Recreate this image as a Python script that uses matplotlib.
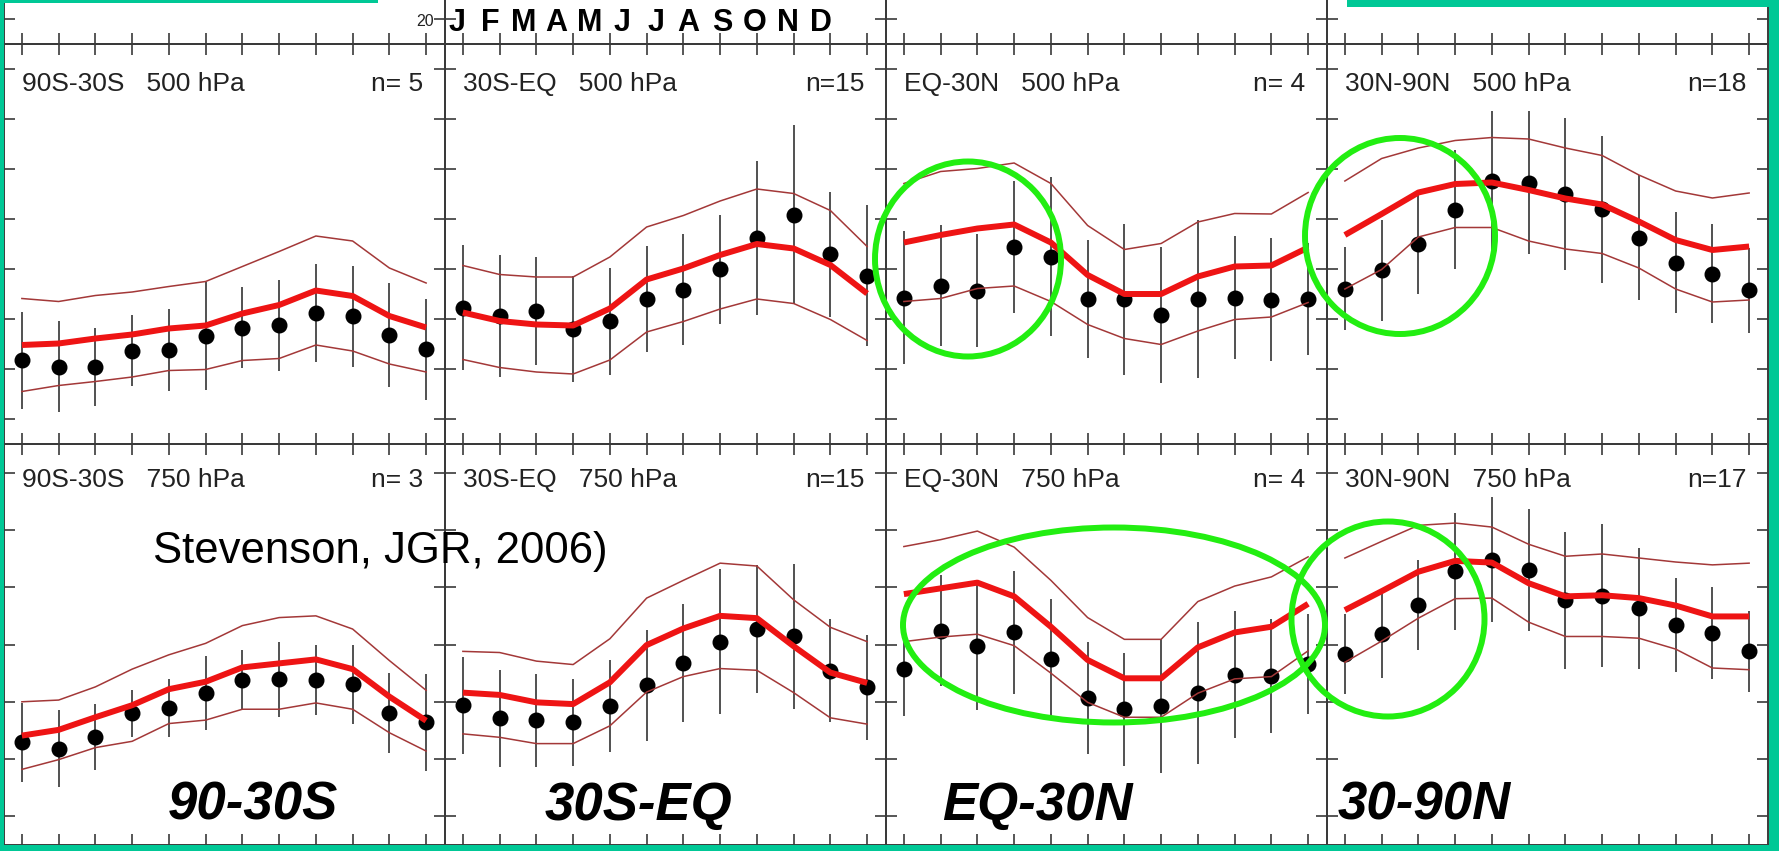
import numpy as np
import matplotlib
matplotlib.use("Agg")
import matplotlib.pyplot as plt
from matplotlib.patches import Ellipse, Rectangle

plt.rcParams['font.family'] = ['Liberation Sans', 'DejaVu Sans']

months = np.arange(1, 13)
month_letters = ['J', 'F', 'M', 'A', 'M', 'J', 'J', 'A', 'S', 'O', 'N', 'D']

regions = ['90S-30S', '30S-EQ', 'EQ-30N', '30N-90N']
big_labels = ['90-30S', '30S-EQ', 'EQ-30N', '30-90N']
n_500 = ['n= 5', 'n=15', 'n= 4', 'n=18']
n_750 = ['n= 3', 'n=15', 'n= 4', 'n=17']

# 500 hPa: observed mean / sd (black dots + bars), model mean / sd (red lines)
obs_90s30s_500 = [31.8, 30.5, 30.5, 33.7, 33.8, 36.7, 38.3, 38.8, 41.3, 40.6, 36.8, 34.0]
obs_sd_90s30s_500 = [9.7, 9.1, 7.8, 7.1, 8.2, 10.8, 8.1, 9.1, 9.8, 10.1, 10.4, 10.1]
mod_90s30s_500 = [34.8, 35.1, 36.1, 36.9, 38.1, 38.7, 41.1, 42.8, 45.7, 44.6, 40.6, 38.3]
mod_sd_90s30s_500 = [9.3, 8.4, 8.6, 8.5, 8.4, 8.8, 9.4, 10.7, 10.9, 11.0, 9.6, 8.9]

obs_30seq_500 = [42.3, 40.6, 41.6, 38.1, 39.6, 44.1, 45.9, 50.0, 56.3, 60.9, 53.0, 48.7]
obs_sd_30seq_500 = [12.5, 12.2, 10.8, 10.6, 10.7, 10.6, 11.1, 10.9, 15.4, 17.9, 12.5, 14.1]
mod_30seq_500 = [41.3, 39.6, 38.9, 38.7, 42.1, 47.9, 50.1, 52.8, 55.0, 54.1, 50.8, 45.1]
mod_sd_30seq_500 = [9.4, 9.3, 9.5, 9.7, 10.3, 10.5, 10.6, 10.8, 11.0, 11.0, 10.9, 9.4]

obs_eq30n_500 = [44.3, 46.7, 45.7, 54.5, 52.5, 44.0, 44.0, 40.8, 44.0, 44.3, 43.9, 44.0]
obs_sd_eq30n_500 = [13.3, 12.1, 11.3, 13.2, 15.9, 11.8, 15.1, 13.6, 15.8, 12.3, 12.3, 11.2]
mod_eq30n_500 = [55.3, 56.8, 58.1, 58.9, 55.3, 48.8, 45.0, 45.0, 48.5, 50.5, 50.7, 54.3]
mod_sd_eq30n_500 = [11.8, 12.7, 12.0, 12.3, 11.8, 9.9, 8.9, 10.1, 10.9, 10.6, 10.3, 11.0]

obs_30n90n_500 = [46.1, 49.8, 55.0, 61.9, 67.7, 67.3, 65.0, 62.0, 56.3, 51.3, 49.1, 45.8]
obs_sd_30n90n_500 = [8.3, 10.1, 10.0, 11.9, 13.9, 14.3, 15.2, 14.7, 12.5, 10.1, 9.9, 8.5]
mod_30n90n_500 = [56.8, 61.0, 65.3, 67.0, 67.3, 65.8, 64.1, 62.9, 59.5, 55.8, 53.8, 54.5]
mod_sd_30n90n_500 = [10.8, 11.1, 8.9, 8.7, 9.0, 10.2, 10.1, 9.8, 9.3, 9.8, 10.4, 10.7]

# 750 hPa
obs_90s30s_750 = [32.9, 31.8, 33.9, 38.0, 38.9, 41.5, 43.8, 43.9, 43.8, 43.1, 38.0, 36.4]
obs_sd_90s30s_750 = [6.9, 6.7, 5.8, 4.1, 5.1, 6.5, 5.2, 6.5, 6.1, 6.9, 7.0, 8.5]
mod_90s30s_750 = [34.1, 35.1, 37.3, 39.4, 42.2, 43.5, 46.0, 46.7, 47.4, 45.7, 40.9, 36.7]
mod_sd_90s30s_750 = [5.9, 5.2, 5.3, 6.3, 6.0, 6.7, 7.3, 8.0, 7.6, 7.0, 6.3, 5.3]

obs_30seq_750 = [39.4, 37.1, 36.8, 36.4, 39.3, 42.9, 46.7, 50.5, 52.7, 51.4, 45.4, 42.5]
obs_sd_30seq_750 = [8.5, 8.5, 8.1, 7.6, 8.0, 9.7, 10.3, 12.7, 11.2, 12.6, 9.0, 9.2]
mod_30seq_750 = [41.6, 41.2, 39.9, 39.6, 43.4, 49.9, 52.8, 55.0, 54.6, 49.7, 45.1, 43.3]
mod_sd_30seq_750 = [7.2, 7.4, 7.2, 6.9, 7.6, 8.2, 8.4, 9.2, 9.1, 8.1, 7.9, 7.2]

obs_eq30n_750 = [45.7, 52.4, 49.7, 52.1, 47.4, 40.6, 38.7, 39.2, 41.6, 44.7, 44.5, 46.6]
obs_sd_eq30n_750 = [8.2, 9.7, 11.1, 10.7, 10.5, 9.8, 9.9, 11.7, 12.4, 11.1, 10.0, 8.8]
mod_eq30n_750 = [58.8, 59.8, 60.8, 58.4, 53.1, 47.3, 44.1, 44.1, 49.5, 52.1, 53.1, 57.1]
mod_sd_eq30n_750 = [8.3, 8.5, 9.0, 8.6, 8.1, 7.4, 6.8, 6.8, 8.0, 8.1, 8.7, 8.2]

obs_30n90n_750 = [48.4, 51.8, 56.9, 62.8, 64.8, 63.0, 57.7, 58.5, 56.3, 53.4, 52.0, 48.8]
obs_sd_30n90n_750 = [7.0, 7.6, 7.9, 10.2, 10.9, 10.7, 12.0, 12.5, 10.6, 8.2, 8.0, 7.1]
mod_30n90n_750 = [56.0, 59.3, 62.7, 64.6, 64.3, 60.7, 58.4, 58.6, 58.1, 56.8, 54.9, 54.9]
mod_sd_30n90n_750 = [9.1, 8.7, 8.1, 6.6, 6.2, 6.8, 7.0, 7.2, 7.0, 7.6, 9.0, 9.3]

panels_500 = [
    (obs_90s30s_500, obs_sd_90s30s_500, mod_90s30s_500, mod_sd_90s30s_500),
    (obs_30seq_500, obs_sd_30seq_500, mod_30seq_500, mod_sd_30seq_500),
    (obs_eq30n_500, obs_sd_eq30n_500, mod_eq30n_500, mod_sd_eq30n_500),
    (obs_30n90n_500, obs_sd_30n90n_500, mod_30n90n_500, mod_sd_30n90n_500),
]
panels_750 = [
    (obs_90s30s_750, obs_sd_90s30s_750, mod_90s30s_750, mod_sd_90s30s_750),
    (obs_30seq_750, obs_sd_30seq_750, mod_30seq_750, mod_sd_30seq_750),
    (obs_eq30n_750, obs_sd_eq30n_750, mod_eq30n_750, mod_sd_eq30n_750),
    (obs_30n90n_750, obs_sd_30n90n_750, mod_30n90n_750, mod_sd_30n90n_750),
]

W, H = 1779, 851
fig = plt.figure(figsize=(W / 100, H / 100), dpi=100)
fig.patch.set_facecolor('white')

axis_col = '#3a3a3a'
col_left = 3.5
col_w = 441


def make_axes(left, top, w, h, ylim):
    ax = fig.add_axes([left / W, 1 - (top + h) / H, w / W, h / H])
    ax.set_xlim(0.5, 12.5)
    ax.set_ylim(*ylim)
    ax.set_xticks(months)
    ax.set_yticks(np.arange(ylim[0] + 5, ylim[1], 10))
    ax.tick_params(direction='in', length=8, width=1.2, color=axis_col,
                   top=True, right=True, labelleft=False, labelbottom=False)
    for s in ax.spines.values():
        s.set_color(axis_col)
        s.set_linewidth(1.4)
    ax.patch.set_alpha(0)
    return ax


def draw_panel(ax, data, title, ntext, ty):
    obs, obs_sd, mod, mod_sd = [np.array(d) for d in data]
    ax.vlines(months, obs - obs_sd, obs + obs_sd, color='#222222', lw=1.1, zorder=2)
    ax.plot(months, obs, 'o', color='black', ms=10.5, zorder=3)
    ax.plot(months, mod + mod_sd, color='#a33838', lw=1.1, zorder=4)
    ax.plot(months, mod - mod_sd, color='#a33838', lw=1.1, zorder=4)
    ax.plot(months, mod, color='#ee1414', lw=4.3, solid_capstyle='butt', zorder=5)
    ax.text(0.041, ty, title, transform=ax.transAxes, fontsize=19,
            color='#222222', va='center', ha='left')
    ax.text(0.952, ty, ntext, transform=ax.transAxes, fontsize=19,
            color='#222222', va='center', ha='right')


# strip of the row above (only its lower edge shows)
for c in range(4):
    make_axes(col_left + col_w * c, -356, col_w, 400, (15, 95))

for c in range(4):
    ax = make_axes(col_left + col_w * c, 44, col_w, 400, (15, 95))
    draw_panel(ax, panels_500[c], regions[c] + '   500 hPa', n_500[c], 0.90)

for c in range(4):
    ax = make_axes(col_left + col_w * c, 444, col_w, 401, (15, 85))
    draw_panel(ax, panels_750[c], regions[c] + '   750 hPa', n_750[c], 0.91)

# overlay in pixel coordinates for annotations
ov = fig.add_axes([0, 0, 1, 1], zorder=10)
ov.set_xlim(0, W)
ov.set_ylim(H, 0)
ov.axis('off')
ov.patch.set_alpha(0)

ov.text(434, 21, '20', ha='right', va='center', fontsize=11.5, color='#222222')
for i, ch in enumerate(month_letters):
    ov.text(457 + 33.1 * i, 31, ch, ha='center', va='baseline',
            fontsize=22, fontweight='bold', color='black')

ov.text(153, 563, 'Stevenson, JGR, 2006)', ha='left', va='baseline',
        fontsize=31.5, color='black')

for x0, lab in zip([168, 545, 942, 1338], big_labels):
    ov.text(x0, 820, lab, ha='left', va='baseline', fontsize=38,
            fontweight='bold', fontstyle='italic', color='black')

green = '#22ee11'
for cx, cy, ew, eh in [(968, 259, 186, 195), (1400, 236, 190, 196),
                       (1114, 625, 422, 195), (1388, 619, 193, 195)]:
    ov.add_patch(Ellipse((cx, cy), ew, eh, fill=False, ec=green, lw=4.3))

teal = '#00c896'
for x, y, w, h in [(0, 0, 3.5, H), (0, 845, W, 6), (1769, 0, 10, H),
                   (0, 0, 378, 3), (1347, 0, W - 1347, 7)]:
    ov.add_patch(Rectangle((x, y), w, h, color=teal, lw=0))

fig.savefig('out.png', dpi=100)
